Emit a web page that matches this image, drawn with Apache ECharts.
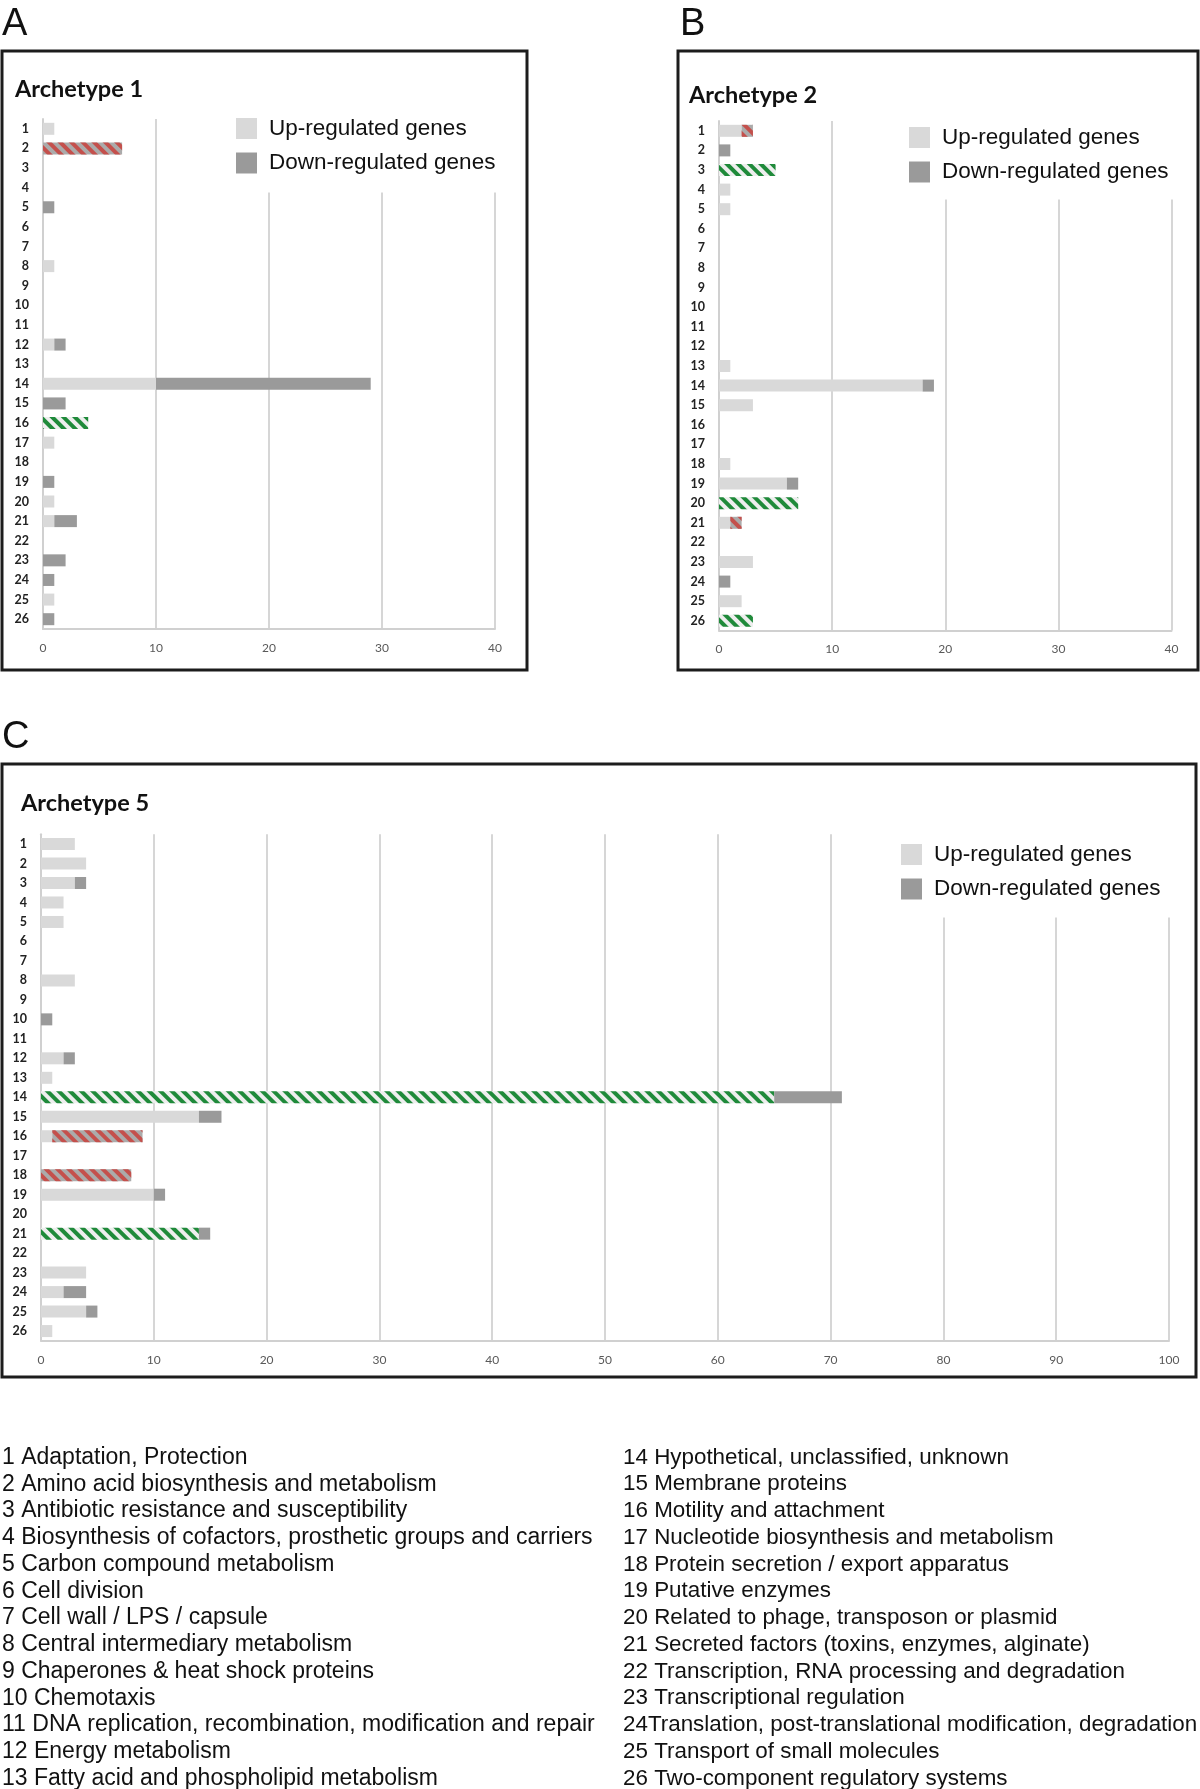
<!DOCTYPE html>
<html><head><meta charset="utf-8">
<script src="https://cdn.jsdelivr.net/npm/echarts@6/dist/echarts.min.js"></script>
<style>html,body{margin:0;padding:0;background:#fff}#c{width:1200px;height:1789px}</style>
</head><body><div id="c"></div>
<script>
const categories = ['1','2','3','4','5','6','7','8','9','10','11','12','13','14','15','16','17','18','19','20','21','22','23','24','25','26'];
const categoryNames = [
 '1 Adaptation, Protection','2 Amino acid biosynthesis and metabolism','3 Antibiotic resistance and susceptibility',
 '4 Biosynthesis of cofactors, prosthetic groups and carriers','5 Carbon compound metabolism','6 Cell division',
 '7 Cell wall / LPS / capsule','8 Central intermediary metabolism','9 Chaperones & heat shock proteins','10 Chemotaxis',
 '11 DNA replication, recombination, modification and repair','12 Energy metabolism','13 Fatty acid and phospholipid metabolism',
 '14 Hypothetical, unclassified, unknown','15 Membrane proteins','16 Motility and attachment',
 '17 Nucleotide biosynthesis and metabolism','18 Protein secretion / export apparatus','19 Putative enzymes',
 '20 Related to phage, transposon or plasmid','21 Secreted factors (toxins, enzymes, alginate)',
 '22 Transcription, RNA processing and degradation','23 Transcriptional regulation',
 '24Translation, post-translational modification, degradation','25 Transport of small molecules','26 Two-component regulatory systems'
];
const seriesNames = ['Up-regulated genes','Down-regulated genes'];
const panelTitles = ['Archetype 1','Archetype 2','Archetype 5'];
const panelLetters = ['A','B','C'];

const a1Up   = [1,0,0,0,0,0,0,1,0,0,0,1,0,10,0,4,1,0,0,1,1,0,0,0,1,0];
const a1Down = [0,7,0,0,1,0,0,0,0,0,0,1,0,19,2,0,0,0,1,0,2,0,2,1,0,1];
const a1UpSig = [16];
const a1DownSig = [2];

const a2Up   = [2,0,5,1,1,0,0,0,0,0,0,0,1,18,3,0,0,1,6,7,1,0,3,0,2,3];
const a2Down = [1,1,0,0,0,0,0,0,0,0,0,0,0,1,0,0,0,0,1,0,1,0,0,1,0,0];
const a2UpSig = [3,20,26];
const a2DownSig = [1,21];

const a5Up   = [3,4,3,2,2,0,0,3,0,0,0,2,1,65,14,1,0,0,10,0,14,0,4,2,4,1];
const a5Down = [0,0,1,0,0,0,0,0,0,1,0,1,0,6,2,8,0,8,1,0,1,0,0,2,1,0];
const a5UpSig = [14,21];
const a5DownSig = [16,18];

const axisMax = [40,40,100];

const UP_COLOR = '#d9d9d9', DOWN_COLOR = '#9a9a9a';
const greenDecal = {symbol:'rect', symbolSize:1, color:'#1f8a3a', dashArrayX:[1,0], dashArrayY:[4,3.5], rotation:Math.PI/4};
const redDecal = {symbol:'rect', symbolSize:1, color:'#c4504c', dashArrayX:[1,0], dashArrayY:[3.5,3.5], rotation:Math.PI/4};

function items(vals, sig, hatchColor, decal){
  return vals.map((v,i)=> sig.indexOf(i+1) >= 0 ? {value:v, itemStyle:{color:hatchColor, decal:decal}} : v);
}

const panels = [
  {up:a1Up, down:a1Down, upSig:a1UpSig, downSig:a1DownSig, grid:{left:43, top:119, width:452, height:510},
   box:[2,51,525,619], letter:[2,6], title:[15,89], legend:{left:228, top:110, pad:[7,10,18,8]}},
  {up:a2Up, down:a2Down, upSig:a2UpSig, downSig:a2DownSig, grid:{left:719, top:121, width:452.5, height:509.6},
   box:[678,51,520,619], letter:[680,6], title:[689,95], legend:{left:901, top:118, pad:[8,10,16,8]}},
  {up:a5Up, down:a5Down, upSig:a5UpSig, downSig:a5DownSig, grid:{left:41, top:834.3, width:1128, height:506.5},
   box:[2,764,1194,613], letter:[2,719], title:[21,803], legend:{left:893, top:833, pad:[10,12,17,8]}}
];

const option = {
  animation:false,
  backgroundColor:'#fff',
  grid: panels.map(p=>Object.assign({containLabel:false}, p.grid)),
  xAxis: panels.map((p,i)=>({
    type:'value', gridIndex:i, min:0, max:axisMax[i], interval:10,
    axisLine:{show:true, lineStyle:{color:'#d0d0d0', width:2}},
    axisTick:{show:false},
    splitLine:{show:true, lineStyle:{color:'#d6d6d6', width:2}},
    axisLabel:{color:'#595959', fontFamily:'Lato', fontSize:12, margin:13}
  })),
  yAxis: panels.map((p,i)=>({
    type:'category', gridIndex:i, data:categories, inverse:true,
    axisLine:{show:true, lineStyle:{color:'#d0d0d0', width:2}},
    axisTick:{show:false},
    axisLabel:{color:'#222', fontFamily:'Lato', fontWeight:'bold', fontSize:12.5, margin:14}
  })),
  legend: panels.map((p,i)=>({
    data:seriesNames, orient:'vertical', left:p.legend.left, top:p.legend.top,
    padding:p.legend.pad, backgroundColor:'#fff', itemWidth:21, itemHeight:21, itemGap:11.5,
    icon:'rect', selectedMode:false,
    textStyle:{fontFamily:'Liberation Sans', fontSize:22.5, color:'#111', padding:[0,0,0,7]}
  })),
  series: panels.flatMap((p,i)=>[
    {name:seriesNames[0], type:'bar', stack:'s'+i, xAxisIndex:i, yAxisIndex:i, barWidth:12,
     itemStyle:{color:UP_COLOR}, data:items(p.up, p.upSig, '#eeeeee', greenDecal)},
    {name:seriesNames[1], type:'bar', stack:'s'+i, xAxisIndex:i, yAxisIndex:i, barWidth:12,
     itemStyle:{color:DOWN_COLOR}, data:items(p.down, p.downSig, '#ababab', redDecal)}
  ]),
  graphic: [].concat(
    panels.map(p=>({type:'rect', shape:{x:p.box[0], y:p.box[1], width:p.box[2], height:p.box[3]},
       style:{fill:null, stroke:'#1c1c1c', lineWidth:3}, silent:true, z:10})),
    panels.map((p,i)=>({type:'text', x:p.letter[0], y:p.letter[1],
       style:{text:panelLetters[i], font:'38px "Liberation Sans"', fill:'#111'}})),
    panels.map((p,i)=>({type:'text', x:p.title[0], y:p.title[1],
       style:{text:panelTitles[i], font:'bold 23.5px Lato', fill:'#111', verticalAlign:'middle'}})),
    categoryNames.map((t,i)=>({type:'text', x: i<13 ? 2 : 623, y:1457.5 + (i%13)*26.75,
       style:{text:t, font:(i<13 ? '23px' : '22.4px') + ' "Liberation Sans"', fill:'#111', verticalAlign:'middle'}}))
  )
};
const chart = echarts.init(document.getElementById('c'), null, {renderer:'canvas'});
chart.setOption(option);
</script>
</body></html>
